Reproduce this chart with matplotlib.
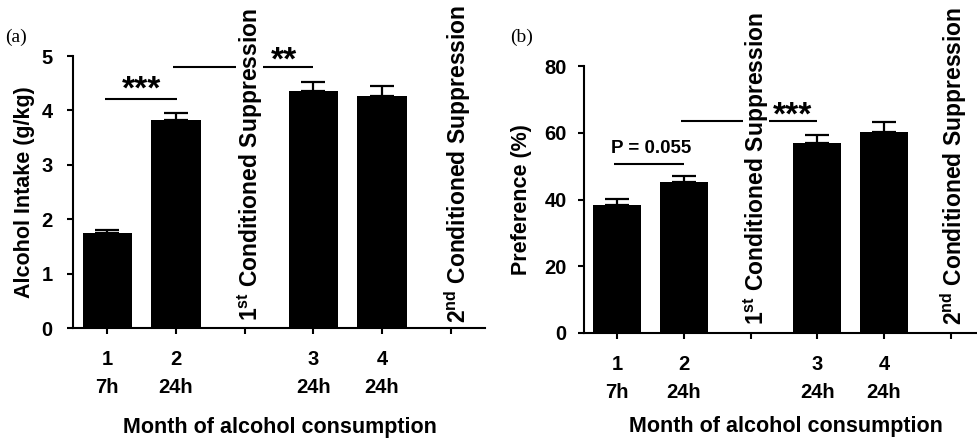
import matplotlib
matplotlib.use('Agg')
import matplotlib.pyplot as plt
import numpy as np

# ---------------------------------------------------------------- data
positions    = [0, 1, 3, 4]
tick_pos     = [0, 1, 2, 3, 4, 5]
tick_labels  = ['1\n7h', '2\n24h', '', '3\n24h', '4\n24h', '']

intake_mean  = [1.74, 3.83, 4.36, 4.26]
intake_sem   = [0.07, 0.12, 0.17, 0.19]

pref_mean    = [38.3, 45.3, 56.8, 60.2]
pref_sem     = [1.8, 1.8, 2.4, 2.9]

suppress_labels = [r'1$^{\mathbf{st}}$ Conditioned Suppression',
                   r'2$^{\mathbf{nd}}$ Conditioned Suppression']

# ---------------------------------------------------------------- style
plt.rcParams['font.family'] = ['Liberation Sans', 'DejaVu Sans']
plt.rcParams['font.weight'] = 'bold'
plt.rcParams['mathtext.fontset'] = 'custom'
plt.rcParams['mathtext.rm'] = 'Liberation Sans:bold'
plt.rcParams['mathtext.bf'] = 'Liberation Sans:bold'
plt.rcParams['axes.linewidth'] = 1.5

fig = plt.figure(figsize=(9.78, 4.38), dpi=100)
W, H = 978, 438


def px_axes(left, right, bottom, top):
    return fig.add_axes([left / W, 1 - bottom / H, (right - left) / W, (bottom - top) / H])


ax_a = px_axes(73, 485, 328, 56)
ax_b = px_axes(584, 984, 333, 66)


def style(ax, ylim, yticks, ylabel, label_x, ypad):
    ax.set_xlim(-0.5, 5.5)
    ax.set_ylim(*ylim)
    ax.spines['top'].set_visible(False)
    ax.spines['right'].set_visible(False)
    ax.set_xticks(tick_pos)
    ax.set_xticklabels(tick_labels, linespacing=1.6)
    ax.set_yticks(yticks)
    ax.tick_params(axis='both', direction='out', length=4.5, width=1.5, labelsize=14.5)
    ax.tick_params(axis='x', pad=11)
    ax.tick_params(axis='y', pad=ypad)
    ax.set_ylabel(ylabel, fontsize=15.5, fontweight='bold', va='center')
    ax.yaxis.set_label_coords(label_x, 0.5)
    ax.set_xlabel('Month of alcohol consumption', fontsize=15.5, fontweight='bold')


def bars(ax, mean, sem):
    ax.bar(positions, mean, width=0.72, color='black', zorder=2)
    ax.errorbar(positions, mean, yerr=[np.zeros(len(sem)), sem], fmt='none',
                ecolor='black', elinewidth=1.6, capsize=8.3, capthick=1.6, zorder=1)


def bracket(ax, x0, x1, y):
    ax.plot([x0, x1], [y, y], color='black', lw=1.5, clip_on=False, solid_capstyle='butt')


# ---------------------------------------------------------------- panel a
style(ax_a, (0, 5), [0, 1, 2, 3, 4, 5], 'Alcohol Intake (g/kg)', -0.117, 10)
bars(ax_a, intake_mean, intake_sem)
ax_a.xaxis.set_label_coords(0.502, -0.364)
ax_a.xaxis.label.set_verticalalignment('center')

bracket(ax_a, -0.03, 1.02, 4.21)
ax_a.text(0.5, 4.38, '***', ha='center', va='center', fontsize=24, clip_on=False)
bracket(ax_a, 0.96, 1.88, 4.79)
bracket(ax_a, 2.26, 3.0, 4.79)
ax_a.text(2.57, 4.91, '**', ha='center', va='center', fontsize=24, clip_on=False)

ax_a.text(2.09, 0.12, suppress_labels[0], rotation=90, ha='center', va='bottom',
          fontsize=16.5, clip_on=False)
ax_a.text(5.1, 0.1, suppress_labels[1], rotation=90, ha='center', va='bottom',
          fontsize=16.5, clip_on=False)
fig.text(5 / W, 1 - 37 / H, '(a)', family='Liberation Serif', fontweight='normal',
         fontsize=14, va='center', ha='left')

# ---------------------------------------------------------------- panel b
style(ax_b, (0, 80), [0, 20, 40, 60, 80], 'Preference (%)', -0.157, 8)
bars(ax_b, pref_mean, pref_sem)
ax_b.xaxis.set_label_coords(0.505, -0.352)
ax_b.xaxis.label.set_verticalalignment('center')

bracket(ax_b, -0.05, 1.0, 50.6)
ax_b.text(0.51, 55.4, 'P = 0.055', ha='center', va='center', fontsize=13.5)
bracket(ax_b, 0.96, 1.88, 63.5)
bracket(ax_b, 2.27, 3.0, 63.5)
ax_b.text(2.63, 65.0, '***', ha='center', va='center', fontsize=24)

ax_b.text(2.08, 2.4, suppress_labels[0], rotation=90, ha='center', va='bottom',
          fontsize=16.5, clip_on=False)
ax_b.text(5.05, 2.4, suppress_labels[1], rotation=90, ha='center', va='bottom',
          fontsize=16.5, clip_on=False)
fig.text(510 / W, 1 - 37 / H, '(b)', family='Liberation Serif', fontweight='normal',
         fontsize=14, va='center', ha='left')

fig.savefig('out.png', dpi=100)
